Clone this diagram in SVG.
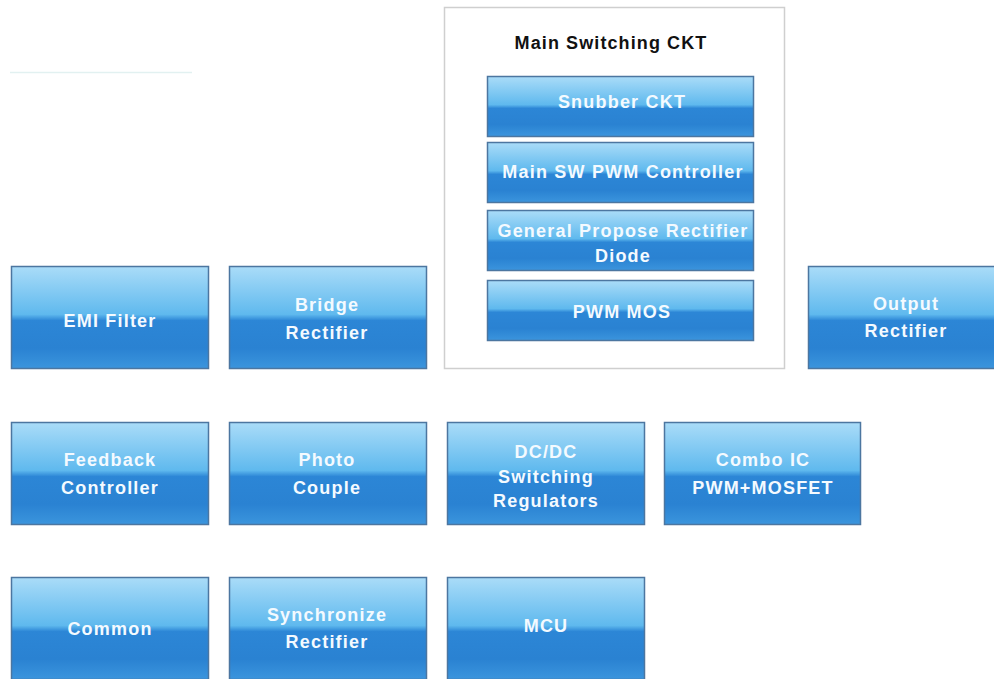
<svg xmlns="http://www.w3.org/2000/svg" width="994" height="679" viewBox="0 0 994 679">
  <defs>
    <linearGradient id="g" x1="0" y1="0" x2="0" y2="1">
      <stop offset="0" stop-color="#aadcf8"/>
      <stop offset="0.47" stop-color="#5fb9ee"/>
      <stop offset="0.53" stop-color="#2c86d6"/>
      <stop offset="0.8" stop-color="#2a82d2"/>
      <stop offset="1" stop-color="#3b95dd"/>
    </linearGradient>
    <style>
      .box { fill: url(#g); stroke: #4c76a0; stroke-width: 1.5; }
      .lbl { font-family: "Liberation Sans", Arial, sans-serif; font-weight: bold; font-size: 18px; letter-spacing: 1.2px; fill: #f4faff; text-anchor: middle; }
      .title { font-family: "Liberation Sans", Arial, sans-serif; font-weight: bold; font-size: 18px; letter-spacing: 1.1px; fill: #111; text-anchor: middle; }
      .frame { fill: #ffffff; stroke: #cfcfcf; stroke-width: 1.5; }
    </style>
  </defs>
  <rect x="0" y="0" width="994" height="679" fill="#ffffff"/>
  <line x1="10" y1="72.5" x2="192" y2="72.5" stroke="#e2f1f1" stroke-width="1.5"/>

  <g id="main-switching-ckt">
    <rect class="frame" x="444.5" y="7.5" width="340" height="361"/>
    <text class="title" x="611" y="49">Main Switching CKT</text>
  </g>
  <g id="snubber-ckt">
    <rect class="box" x="487.5" y="76.5" width="266" height="60"/>
    <text class="lbl" x="622" y="108">Snubber CKT</text>
  </g>
  <g id="main-sw-pwm-controller">
    <rect class="box" x="487.5" y="142.5" width="266" height="60"/>
    <text class="lbl" x="623" y="178">Main SW PWM Controller</text>
  </g>
  <g id="general-propose-rectifier-diode">
    <rect class="box" x="487.5" y="210.5" width="266" height="60"/>
    <text class="lbl" x="623" y="237">General Propose Rectifier</text>
    <text class="lbl" x="623" y="262">Diode</text>
  </g>
  <g id="pwm-mos">
    <rect class="box" x="487.5" y="280.5" width="266" height="60"/>
    <text class="lbl" x="622" y="318">PWM MOS</text>
  </g>

  <g id="emi-filter">
    <rect class="box" x="11.5" y="266.5" width="197" height="102"/>
    <text class="lbl" x="110" y="327">EMI Filter</text>
  </g>
  <g id="bridge-rectifier">
    <rect class="box" x="229.5" y="266.5" width="197" height="102"/>
    <text class="lbl" x="327" y="311">Bridge</text>
    <text class="lbl" x="327" y="339">Rectifier</text>
  </g>
  <g id="output-rectifier">
    <rect class="box" x="808.5" y="266.5" width="197" height="102"/>
    <text class="lbl" x="906" y="310">Output</text>
    <text class="lbl" x="906" y="337">Rectifier</text>
  </g>

  <g id="feedback-controller">
    <rect class="box" x="11.5" y="422.5" width="197" height="102"/>
    <text class="lbl" x="110" y="466">Feedback</text>
    <text class="lbl" x="110" y="494">Controller</text>
  </g>
  <g id="photo-couple">
    <rect class="box" x="229.5" y="422.5" width="197" height="102"/>
    <text class="lbl" x="327" y="466">Photo</text>
    <text class="lbl" x="327" y="494">Couple</text>
  </g>
  <g id="dc-dc-switching-regulators">
    <rect class="box" x="447.5" y="422.5" width="197" height="102"/>
    <text class="lbl" x="546" y="458">DC/DC</text>
    <text class="lbl" x="546" y="483">Switching</text>
    <text class="lbl" x="546" y="507">Regulators</text>
  </g>
  <g id="combo-ic">
    <rect class="box" x="664.5" y="422.5" width="196" height="102"/>
    <text class="lbl" x="763" y="466">Combo IC</text>
    <text class="lbl" x="763" y="494">PWM+MOSFET</text>
  </g>

  <g id="common">
    <rect class="box" x="11.5" y="577.5" width="197" height="102"/>
    <text class="lbl" x="110" y="635">Common</text>
  </g>
  <g id="synchronize-rectifier">
    <rect class="box" x="229.5" y="577.5" width="197" height="102"/>
    <text class="lbl" x="327" y="621">Synchronize</text>
    <text class="lbl" x="327" y="648">Rectifier</text>
  </g>
  <g id="mcu">
    <rect class="box" x="447.5" y="577.5" width="197" height="102"/>
    <text class="lbl" x="546" y="632">MCU</text>
  </g>

  <g id="connectors"></g>
</svg>
